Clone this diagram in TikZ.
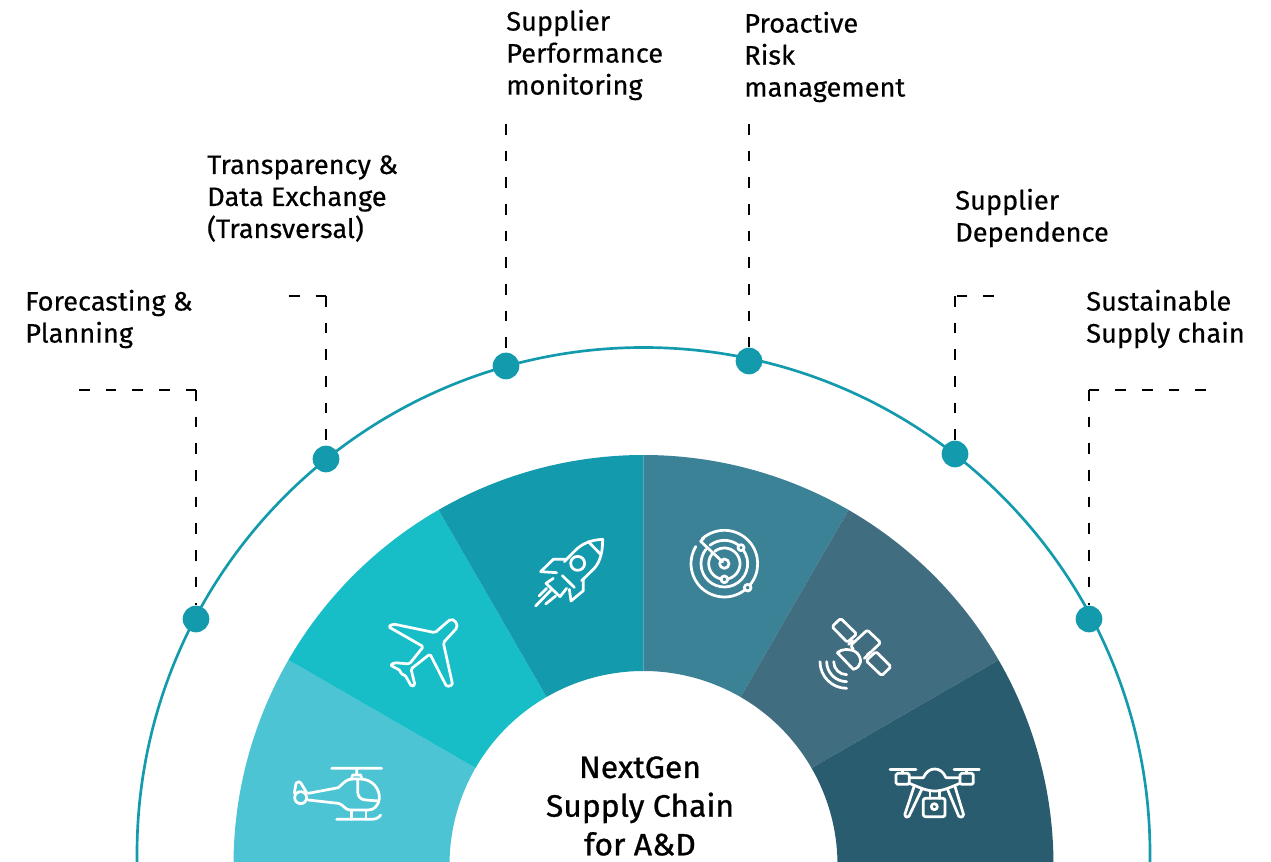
\documentclass[tikz,border=0pt]{standalone}
\usepackage{fontspec}
\setmainfont{Fira Sans}[FakeBold=0.45, FakeStretch=1.02]
\newfontfamily\hubfont{Fira Sans}[FakeBold=0.9, FakeStretch=1.03]
\definecolor{secA}{HTML}{4DC4D3}
\definecolor{secB}{HTML}{17BEC8}
\definecolor{secC}{HTML}{139AAD}
\definecolor{secD}{HTML}{3C8296}
\definecolor{secE}{HTML}{406D80}
\definecolor{secF}{HTML}{295C6F}
\tikzset{
		ring/.style={draw=secC, line width=2pt},
		dot/.style={circle, fill=secC, inner sep=0pt, minimum size=20pt},
		leader/.style={draw=black, line width=1.35pt, dash pattern=on 8pt off 12pt},
		label/.style={align=left, anchor=north west, inner sep=0pt, font=\fontsize{20}{24}\selectfont},
		hub/.style={align=center, inner sep=0pt, font=\hubfont\fontsize{23.2}{29}\selectfont},
		icon/.style={draw=white, line width=2.05pt, line cap=round, line join=round},
		crop/.style args={#1/#2}{shift={(#1,#2)}, x=0.25pt, y=-0.25pt}
	}
\begin{document}
\begin{tikzpicture}[x=0.75pt, y=-0.75pt]
				\useasboundingbox (0,0) rectangle (1271,862);
				\clip (0,0) rectangle (1271,862);

				\foreach \ang/\secfill in {180/secA, 210/secB, 240/secC, 270/secD, 300/secE, 330/secF}
					\fill[\secfill, shift={(643.5,865)}] (\ang:194) arc[start angle=\ang, end angle=\ang+30, radius=194]
						-- (\ang+30:410) arc[start angle=\ang+30, end angle=\ang, radius=410] -- cycle;

				\draw[ring] (643.5,854) circle [radius=506.5];

				\node[dot] (d1) at (196,619) {};
				\node[dot] (d2) at (326,459) {};
				\node[dot] (d3) at (506,366) {};
				\node[dot] (d4) at (749,361) {};
				\node[dot] (d5) at (955,454) {};
				\node[dot] (d6) at (1089,619) {};

				\coordinate (c1) at (79,390);
				\coordinate (c2) at (289,296);
				\coordinate (c3) at (506,124);
				\coordinate (c4) at (749,124);
				\coordinate (c5) at (994,296);
				\coordinate (c6) at (1206,390);

				\draw[leader] (c1) -- (c1 -| d1) (c1 -| d1) -- (d1);
				\draw[leader] (c2) -- (c2 -| d2) (c2 -| d2) -- (d2);
				\draw[leader] (c3) -- (d3);
				\draw[leader] (c4) -- (d4);
				\draw[leader] (c5) -- (c5 -| d5) (c5 -| d5) -- (d5);
				\draw[leader] (c6) -- (c6 -| d6) (c6 -| d6) -- (d6);

				\node[label] (l1) at (25,289.5)   {Forecasting \&\\Planning};
				\node[label] (l2) at (207,155)    {Transparency \&\\Data Exchange\\(Transversal)};
				\node[label] (l3) at (506,9.5)    {Supplier\\Performance\\monitoring};
				\node[label] (l4) at (744,11.5)   {Proactive\\Risk\\management};
				\node[label] (l5) at (955,188.5)  {Supplier\\Dependence};
				\node[label] (l6) at (1086,289.5) {Sustainable\\Supply chain};
				\node[hub]   (centre) at (640,806) {NextGen\\Supply Chain\\for A\&D};

				\begin{scope}[crop=285/755]
					\draw[icon] (140,40) -- (290,40) (215,40) -- (215,60) (200,70) -- (203,60) -- (227,60) -- (230,70);
					\draw[icon] (70,115) -- (160,98) .. controls (180,80) and (185,72) .. (205,72) -- (225,72)
						.. controls (265,72) and (285,105) .. (283,130) .. controls (280,155) and (265,165) .. (250,165)
						-- (195,165) .. controls (180,165) and (175,148) .. (160,145) -- (70,135);
					\draw[icon] (218,72) -- (218,110) .. controls (218,125) and (228,135) .. (243,135) -- (281,138);
					\draw[icon] (47,128) circle [radius=18];
					\draw[icon] (28,115) -- (33,85) .. controls (36,78) and (45,78) .. (50,88) -- (65,113);
					\draw[icon] (155,193) -- (260,193) .. controls (272,193) and (282,188) .. (287,180);
					\draw[icon] (200,165) -- (200,193) (243,165) -- (243,193);
				\end{scope}

				\begin{scope}[crop=280/520]
					\draw[icon, rounded corners=1.2pt] (465,338) -- (340,312) -- (325,320) -- (430,380) -- (388,432) -- (345,428)
						-- (330,435) -- (362,452) -- (362,462) -- (375,465) -- (395,500) -- (405,495) -- (393,447) -- (450,402)
						-- (500,500) -- (518,495) -- (490,368) -- (525,330) .. controls (538,315) and (522,292) .. (505,303) -- cycle;
				\end{scope}

				\begin{scope}[crop=525/530]
					\draw[icon] (118,95) -- (150,62) .. controls (170,42) and (195,30) .. (233,28)
						.. controls (233,60) and (228,92) .. (208,115) -- (170,152);
					\draw[icon] (190,35) -- (226,72);
					\draw[icon] (158,100) circle [radius=21];
					\draw[icon] (125,88) -- (85,88) -- (47,125) -- (95,128);
					\draw[icon] (175,148) -- (175,182) -- (138,213) -- (133,178);
					\draw[icon] (85,145) -- (63,160) -- (105,200) -- (125,175);
					\draw[icon] (112,137) -- (148,172);
					\draw[icon] (80,178) -- (32,228) (65,175) -- (42,198) (92,198) -- (62,222);
				\end{scope}

				\begin{scope}[crop=680/522]
					\draw[icon] (133,125) ++(228:100) arc[start angle=228, end angle=400, radius=100];
					\draw[icon] (133,125) ++(412:100) arc[start angle=412, end angle=571, radius=100];
					\draw[icon] (133,125) ++(232:70) arc[start angle=232, end angle=308, radius=70];
					\draw[icon] (133,125) ++(324:70) arc[start angle=324, end angle=578, radius=70];
					\draw[icon] (133,125) ++(232:47) arc[start angle=232, end angle=440, radius=47];
					\draw[icon] (133,125) ++(100:47) arc[start angle=100, end angle=218, radius=47];
					\draw[icon] (133,125) circle [radius=14];
					\draw[icon] (183,77) circle [radius=9];
					\draw[icon] (203,197) circle [radius=10];
					\draw[icon] (133,172) circle [radius=10];
					\draw[icon] (128,120) -- (62,58) -- (72,48);
				\end{scope}

				\begin{scope}[crop=810/610]
					\draw[icon, rounded corners=1.2pt] (92,25) -- (140,72) -- (112,97) -- (66,50) -- cycle;
					\draw[icon, rounded corners=1.2pt] (130,118) -- (122,106) -- (172,60) -- (212,98) -- (163,145);
					\draw[icon, rounded corners=1.2pt] (198,125) -- (243,170) -- (215,197) -- (168,152) -- cycle;
					\draw[icon] (82,128) -- (130,178) .. controls (155,172) and (158,145) .. (140,128)
						.. controls (122,114) and (95,116) .. (82,128);
					\draw[icon] (116,103) -- (128,92) (172,134) -- (182,126);
					\draw[icon] (110,155) ++(180:80) arc[start angle=180, end angle=90, radius=80];
					\draw[icon] (110,155) ++(180:60) arc[start angle=180, end angle=90, radius=60];
					\draw[icon] (110,155) ++(180:39) arc[start angle=180, end angle=90, radius=39];
				\end{scope}

				\begin{scope}[crop=880/755]
					\draw[icon] (30,43) -- (108,43) (222,43) -- (298,43) (68,43) -- (68,55) (260,43) -- (260,55);
					\draw[icon, rounded corners=1.2pt] (48,55) rectangle (88,88);
					\draw[icon, rounded corners=1.2pt] (240,55) rectangle (280,88);
					\draw[icon] (88,68) -- (130,68) .. controls (138,50) and (150,42) .. (164,42)
						.. controls (178,42) and (190,50) .. (198,68) -- (240,68);
					\draw[icon] (88,85) .. controls (120,98) and (140,108) .. (164,108) .. controls (188,108) and (208,98) .. (240,85);
					\draw[icon, rounded corners=1.2pt] (102,95) -- (73,183) -- (85,188) -- (125,104);
					\draw[icon, rounded corners=1.2pt] (225,95) -- (252,183) -- (238,188) -- (203,104);
					\draw[icon, rounded corners=1.5pt] (130,130) rectangle (195,185);
					\draw[icon] (150,108) -- (150,130) (178,108) -- (178,130);
					\draw[icon] (163,155) circle [radius=9];
				\end{scope}
			\end{tikzpicture}
\end{document}
